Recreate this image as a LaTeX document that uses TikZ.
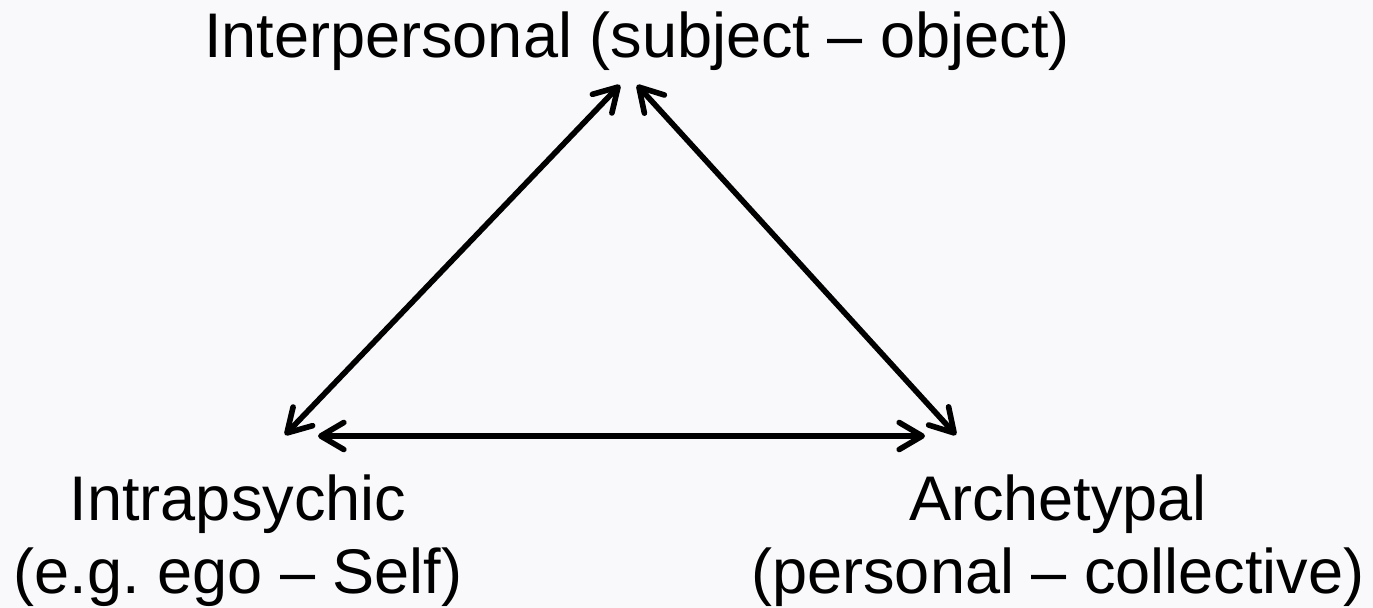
\documentclass[tikz,border=0pt]{standalone}
\usepackage{fontspec}
\setmainfont{Liberation Sans}
\usetikzlibrary{arrows.meta}
\definecolor{Paper}{HTML}{F9F9FC}
\definecolor{Ink}{HTML}{000000}

\begin{document}
\begin{tikzpicture}[x=0.02cm,y=-0.02cm,
  label/.style={text=Ink,align=center,font=\fontsize{35.9}{41.5}\selectfont\frenchspacing,inner sep=0pt,anchor=base},
  link/.style={draw=Ink,line width=3.2pt,{Straight Barb[round,length=4.6mm,width=5.4mm]}-{Straight Barb[round,length=4.6mm,width=5.4mm]}}
]
\fill[Paper] (0,0) rectangle (1373,608);
\useasboundingbox (0,0) rectangle (1373,608);
% labels (two-line ones sit on their last baseline)
\node[label] (inter) at (637,58) {Interpersonal (subject – object)};
\node[label] (intra) at (238,593) {Intrapsychic\\(e.g. ego – Self)};
\node[label] (arch) at (1058,593) {Archetypal\\(personal – collective)};
% arrow ends
\coordinate (topL) at (620,85);
\coordinate (topR) at (637,85);
\coordinate (botL) at (285,435);
\coordinate (midL) at (318,436);
\coordinate (midR) at (925,436);
\coordinate (botR) at (956,435);
\draw[link] (botL) -- (topL);
\draw[link] (topR) -- (botR);
\draw[link] (midL) -- (midR);
\end{tikzpicture}
\end{document}
